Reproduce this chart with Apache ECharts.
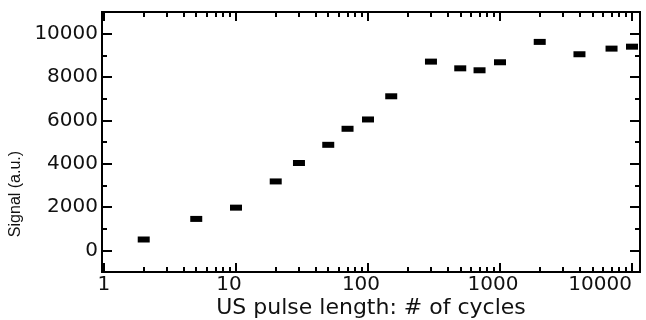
<!DOCTYPE html>
<html>
<head>
<meta charset="utf-8">
<script src="https://cdn.jsdelivr.net/npm/echarts@6/dist/echarts.min.js"></script>
<style>
  html, body { margin: 0; padding: 0; background: #fff; }
  #chart { width: 646px; height: 320px; }
</style>
</head>
<body>
<div id="chart"></div>
<script>
// pulse length (cycles) and measured signal
const cycles = [2, 5, 10, 20, 30, 50, 70, 100, 150, 300, 500, 700, 1000, 2000, 4000, 7000, 10000]
const signal = [500, 1450, 1970, 3180, 4030, 4870, 5610, 6040, 7110, 8710, 8400, 8310, 8680, 9620, 9050, 9310, 9400]

// tick positions
const xMajor = [1, 10, 100, 1000, 10000]
const xMinor = [2, 3, 4, 5, 6, 7, 8, 9, 20, 30, 40, 50, 60, 70, 80, 90,
  200, 300, 400, 500, 600, 700, 800, 900, 2000, 3000, 4000, 5000, 6000, 7000, 8000, 9000]
const yMajor = [0, 2000, 4000, 6000, 8000, 10000]
const yMinor = [-1000, 1000, 3000, 5000, 7000, 9000]

const font = 'DejaVu Sans'
const plain = v => String(Math.round(v))

// decade labels sit a little left of their ticks in the original
const xLabel = v => {
  const s = plain(v)
  if (v < 2) return '{o|' + s + '}'
  if (v > 5000) return '{e|' + s + '}'
  return '{n|' + s + '}'
}

const xBase = (pos, ticks, len, labels) => ({
  type: 'log',
  logBase: 10,
  min: 0.966,
  max: 11500,
  position: pos,
  axisLine: { show: true, onZero: false, lineStyle: { color: '#000', width: 2 } },
  axisTick: { show: true, inside: true, length: len, customValues: ticks, lineStyle: { color: '#000', width: 2 } },
  axisLabel: labels
    ? {
        show: true, customValues: xMajor, formatter: xLabel, alignMaxLabel: 'right',
        color: '#111', fontFamily: font, fontSize: 20, margin: 3,
        rich: { n: { padding: [0, 14, 0, 0] }, o: {}, e: {} },
      }
    : { show: false },
  splitLine: { show: false },
})

const yBase = (pos, ticks, len, labels) => ({
  type: 'value',
  min: -1000,
  max: 11000,
  position: pos,
  axisLine: { show: true, onZero: false, lineStyle: { color: '#000', width: 2 } },
  axisTick: { show: true, inside: true, length: len, customValues: ticks, lineStyle: { color: '#000', width: 2 } },
  axisLabel: labels
    ? { show: true, customValues: yMajor, formatter: plain, color: '#111', fontFamily: font, fontSize: 20, margin: 4 }
    : { show: false },
  splitLine: { show: false },
})

const xMain = xBase('bottom', xMajor, 9, true)
xMain.name = 'US pulse length: # of cycles'
xMain.nameLocation = 'middle'
xMain.nameGap = 25
xMain.nameMoveOverlap = false
xMain.nameTextStyle = { color: '#111', fontFamily: font, fontSize: 22, verticalAlign: 'top' }

const chart = echarts.init(document.getElementById('chart'))
chart.setOption({
  animation: false,
  backgroundColor: '#fff',
  grid: { left: 102, right: 6, top: 12, bottom: 48, containLabel: false, outerBoundsMode: 'none' },
  xAxis: [
    xMain,
    xBase('bottom', xMinor, 5, false),
    xBase('top', xMajor, 9, false),
    xBase('top', xMinor, 5, false),
  ],
  yAxis: [
    yBase('left', yMajor, 10, true),
    yBase('left', yMinor, 5, false),
    yBase('right', yMajor, 10, false),
    yBase('right', yMinor, 5, false),
  ],
  graphic: [{
    type: 'text',
    x: 16,
    y: 194,
    rotation: Math.PI / 2,
    style: {
      text: 'Signal (a.u.)',
      fontFamily: '"Liberation Sans Narrow", "Liberation Sans"',
      fontSize: 16,
      fill: '#111',
      align: 'center',
      verticalAlign: 'middle',
    },
  }],
  series: [{
    type: 'scatter',
    xAxisIndex: 0,
    yAxisIndex: 0,
    symbol: 'rect',
    symbolSize: [12, 6],
    itemStyle: { color: '#000', opacity: 1 },
    data: cycles.map((c, i) => [c, signal[i]]),
  }],
})
</script>
</body>
</html>
